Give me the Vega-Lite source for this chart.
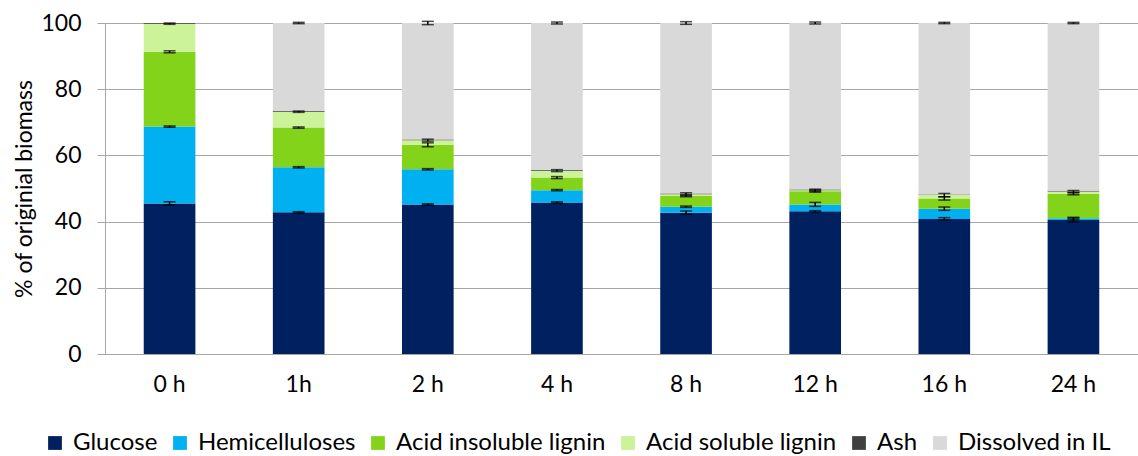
{
  "$schema": "https://vega.github.io/schema/vega-lite/v6.json",
  "width": 1033,
  "height": 331,
  "autosize": "none",
  "padding": {"left": 105, "top": 23, "right": 0, "bottom": 102},
  "background": "white",
  "config": {
    "font": "Lato",
    "view": {"stroke": null},
    "axis": {"labelFont": "Lato", "titleFont": "Lato", "labelColor": "#000000", "titleColor": "#000000"}
  },
  "data": {
    "values": [
      {"time": "0 h", "comp": "Glucose", "ord": 1, "value": 45.5, "err": 0.5},
      {"time": "0 h", "comp": "Hemicelluloses", "ord": 2, "value": 23.2, "err": 0.2},
      {"time": "0 h", "comp": "Acid insoluble lignin", "ord": 3, "value": 22.6, "err": 0.3},
      {"time": "0 h", "comp": "Acid soluble lignin", "ord": 4, "value": 8.5, "err": 0.2},
      {"time": "0 h", "comp": "Ash", "ord": 5, "value": 0.2, "err": null},
      {"time": "0 h", "comp": "Dissolved in IL", "ord": 6, "value": 0.0, "err": null},
      {"time": "1h", "comp": "Glucose", "ord": 1, "value": 42.8, "err": 0.2},
      {"time": "1h", "comp": "Hemicelluloses", "ord": 2, "value": 13.6, "err": 0.2},
      {"time": "1h", "comp": "Acid insoluble lignin", "ord": 3, "value": 12.0, "err": 0.2},
      {"time": "1h", "comp": "Acid soluble lignin", "ord": 4, "value": 4.8, "err": 0.2},
      {"time": "1h", "comp": "Ash", "ord": 5, "value": 0.2, "err": null},
      {"time": "1h", "comp": "Dissolved in IL", "ord": 6, "value": 26.6, "err": 0.2},
      {"time": "2 h", "comp": "Glucose", "ord": 1, "value": 45.2, "err": 0.2},
      {"time": "2 h", "comp": "Hemicelluloses", "ord": 2, "value": 10.6, "err": 0.2},
      {"time": "2 h", "comp": "Acid insoluble lignin", "ord": 3, "value": 7.4, "err": 0.6},
      {"time": "2 h", "comp": "Acid soluble lignin", "ord": 4, "value": 1.4, "err": 0.3},
      {"time": "2 h", "comp": "Ash", "ord": 5, "value": 0.2, "err": null},
      {"time": "2 h", "comp": "Dissolved in IL", "ord": 6, "value": 35.2, "err": 0.5},
      {"time": "4 h", "comp": "Glucose", "ord": 1, "value": 45.8, "err": 0.2},
      {"time": "4 h", "comp": "Hemicelluloses", "ord": 2, "value": 3.7, "err": 0.2},
      {"time": "4 h", "comp": "Acid insoluble lignin", "ord": 3, "value": 3.8, "err": 0.3},
      {"time": "4 h", "comp": "Acid soluble lignin", "ord": 4, "value": 2.1, "err": 0.3},
      {"time": "4 h", "comp": "Ash", "ord": 5, "value": 0.2, "err": null},
      {"time": "4 h", "comp": "Dissolved in IL", "ord": 6, "value": 44.4, "err": 0.3},
      {"time": "8 h", "comp": "Glucose", "ord": 1, "value": 42.7, "err": 0.5},
      {"time": "8 h", "comp": "Hemicelluloses", "ord": 2, "value": 1.8, "err": 0.2},
      {"time": "8 h", "comp": "Acid insoluble lignin", "ord": 3, "value": 3.3, "err": 0.3},
      {"time": "8 h", "comp": "Acid soluble lignin", "ord": 4, "value": 0.5, "err": 0.4},
      {"time": "8 h", "comp": "Ash", "ord": 5, "value": 0.2, "err": null},
      {"time": "8 h", "comp": "Dissolved in IL", "ord": 6, "value": 51.5, "err": 0.4},
      {"time": "12 h", "comp": "Glucose", "ord": 1, "value": 43.1, "err": 0.2},
      {"time": "12 h", "comp": "Hemicelluloses", "ord": 2, "value": 2.1, "err": 0.6},
      {"time": "12 h", "comp": "Acid insoluble lignin", "ord": 3, "value": 4.0, "err": 0.3},
      {"time": "12 h", "comp": "Acid soluble lignin", "ord": 4, "value": 0.3, "err": 0.3},
      {"time": "12 h", "comp": "Ash", "ord": 5, "value": 0.2, "err": null},
      {"time": "12 h", "comp": "Dissolved in IL", "ord": 6, "value": 50.3, "err": 0.3},
      {"time": "16 h", "comp": "Glucose", "ord": 1, "value": 40.8, "err": 0.4},
      {"time": "16 h", "comp": "Hemicelluloses", "ord": 2, "value": 3.1, "err": 0.5},
      {"time": "16 h", "comp": "Acid insoluble lignin", "ord": 3, "value": 3.1, "err": 0.5},
      {"time": "16 h", "comp": "Acid soluble lignin", "ord": 4, "value": 1.0, "err": 0.5},
      {"time": "16 h", "comp": "Ash", "ord": 5, "value": 0.2, "err": null},
      {"time": "16 h", "comp": "Dissolved in IL", "ord": 6, "value": 51.8, "err": 0.2},
      {"time": "24 h", "comp": "Glucose", "ord": 1, "value": 40.5, "err": 0.6},
      {"time": "24 h", "comp": "Hemicelluloses", "ord": 2, "value": 0.5, "err": 0.3},
      {"time": "24 h", "comp": "Acid insoluble lignin", "ord": 3, "value": 7.4, "err": 0.3},
      {"time": "24 h", "comp": "Acid soluble lignin", "ord": 4, "value": 0.7, "err": 0.3},
      {"time": "24 h", "comp": "Ash", "ord": 5, "value": 0.2, "err": null},
      {"time": "24 h", "comp": "Dissolved in IL", "ord": 6, "value": 50.7, "err": 0.2}
    ]
  },
  "encoding": {
    "x": {
      "field": "time", "type": "nominal",
      "sort": ["0 h", "1h", "2 h", "4 h", "8 h", "12 h", "16 h", "24 h"],
      "scale": {"paddingInner": 0.6, "paddingOuter": 0.3},
      "axis": {"title": null, "labelAngle": 0, "labelFontSize": 23, "labelPadding": 19, "ticks": false, "domainColor": "#a6a6a6", "domainWidth": 1, "grid": false}
    }
  },
  "layer": [
    {
      "mark": {"type": "bar"},
      "encoding": {
        "y": {
          "field": "value", "type": "quantitative", "stack": "zero",
          "scale": {"domain": [0, 100]},
          "title": "% of originial biomass",
          "axis": {"title": "% of originial biomass", "titleFontSize": 23, "titleFontWeight": "normal", "titlePadding": 4, "labelFontSize": 23, "labelPadding": 16, "values": [0, 20, 40, 60, 80, 100], "grid": true, "gridColor": "#a6a6a6", "gridWidth": 1, "domainColor": "#a6a6a6", "tickColor": "#a6a6a6", "tickSize": 8}
        },
        "order": {"field": "ord", "type": "quantitative", "sort": "ascending"},
        "color": {
          "field": "comp", "type": "nominal",
          "scale": {
            "domain": ["Glucose", "Hemicelluloses", "Acid insoluble lignin", "Acid soluble lignin", "Ash", "Dissolved in IL"],
            "range": ["#002060", "#00b0f0", "#82d31a", "#ccf29a", "#404040", "#d9d9d9"]
          },
          "legend": {
            "title": null, "orient": "none", "direction": "horizontal", "legendX": -62, "legendY": 408,
            "symbolType": "square", "symbolSize": 190, "symbolStrokeWidth": 0, "labelFontSize": 24, "labelColor": "#000000", "labelLimit": 0,
            "columnPadding": 10, "labelOffset": 6, "symbolOpacity": 1
          }
        }
      }
    },
    {
      "transform": [
        {"stack": "value", "groupby": ["time"], "sort": [{"field": "ord", "order": "ascending"}], "as": ["lo", "hi"]},
        {"filter": "isValid(datum.err)"}
      ],
      "mark": {"type": "errorbar", "ticks": {"size": 12, "color": "#000000"}, "color": "#000000", "thickness": 1.5},
      "encoding": {
        "y": {"field": "hi", "type": "quantitative", "title": "% of originial biomass"},
        "yError": {"field": "err"}
      }
    }
  ]
}
